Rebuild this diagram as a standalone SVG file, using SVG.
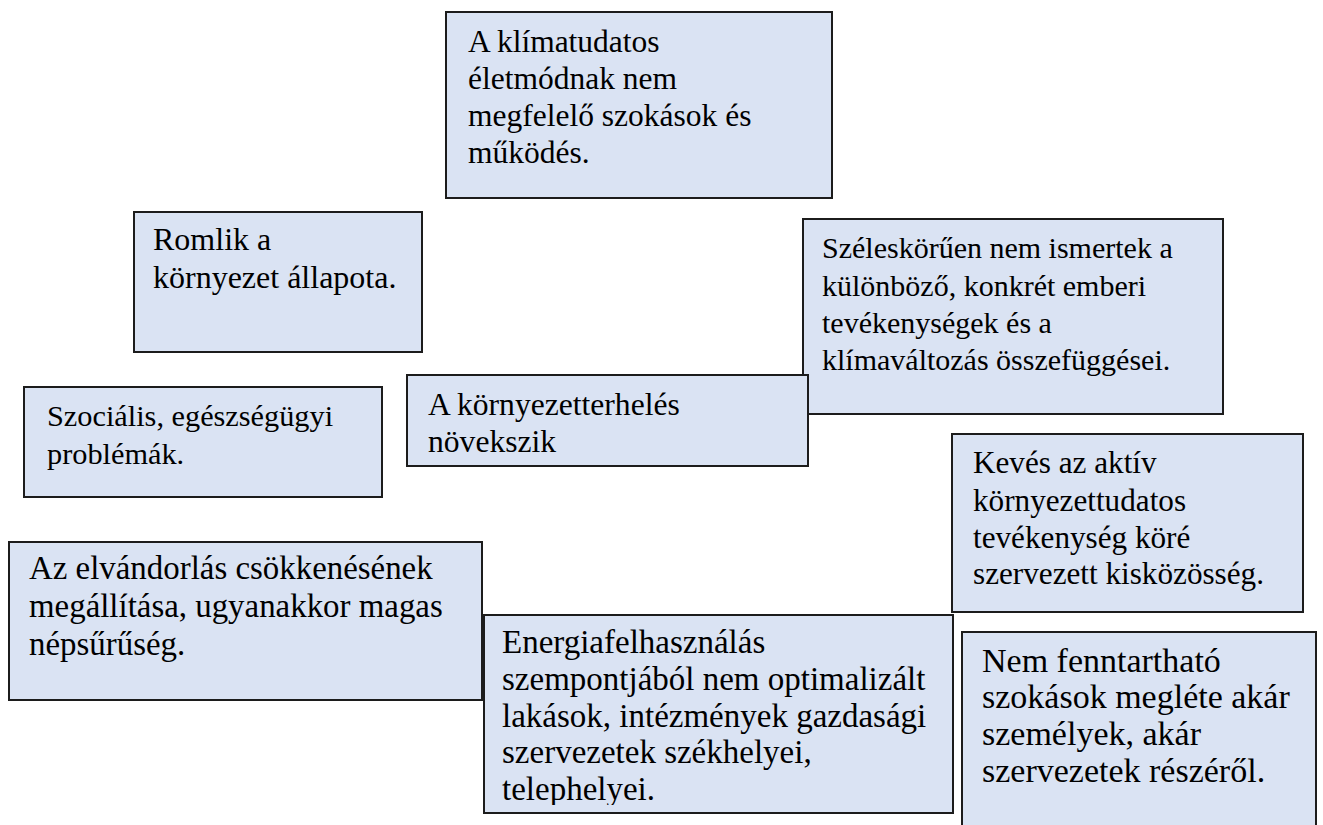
<svg xmlns="http://www.w3.org/2000/svg" width="1323" height="825" viewBox="0 0 1323 825">
<style>
.box{fill:#DAE3F3;stroke:#1c1c1c;stroke-width:2}
</style>
<defs>
<clipPath id="clipE"><rect x="484" y="615" width="469" height="190"/></clipPath>
</defs>
<rect x="0" y="0" width="1323" height="825" fill="#fff"/>
<g id="connectors"></g>
<g id="n1">
<rect class="box" x="446" y="12" width="386" height="186"/>
<text x="468" y="52" font-family="Liberation Serif, serif" font-size="31.5">A klímatudatos</text>
<text x="468" y="89" font-family="Liberation Serif, serif" font-size="31.5">életmódnak nem</text>
<text x="468" y="126" font-family="Liberation Serif, serif" font-size="31.5">megfelelő szokások és</text>
<text x="468" y="163" font-family="Liberation Serif, serif" font-size="31.5">működés.</text>
</g>
<g id="n2">
<rect class="box" x="134" y="212" width="288" height="140"/>
<text x="153" y="250" font-family="Liberation Serif, serif" font-size="32">Romlik a</text>
<text x="153" y="288" font-family="Liberation Serif, serif" font-size="32">környezet állapota.</text>
</g>
<g id="n3">
<rect class="box" x="24" y="387" width="358" height="110"/>
<text x="47" y="426" font-family="Liberation Serif, serif" font-size="30.3">Szociális, egészségügyi</text>
<text x="47" y="464" font-family="Liberation Serif, serif" font-size="30.3">problémák.</text>
</g>
<g id="n5">
<rect class="box" x="803" y="219" width="420" height="195"/>
<text x="822" y="258" font-family="Liberation Serif, serif" font-size="30">Széleskörűen nem ismertek a</text>
<text x="822" y="296" font-family="Liberation Serif, serif" font-size="30">különböző, konkrét emberi</text>
<text x="822" y="333" font-family="Liberation Serif, serif" font-size="30">tevékenységek és a</text>
<text x="822" y="370" font-family="Liberation Serif, serif" font-size="30">klímaváltozás összefüggései.</text>
</g>
<g id="n4">
<rect class="box" x="407" y="375" width="401" height="91"/>
<text x="428" y="415" font-family="Liberation Serif, serif" font-size="31.6">A környezetterhelés</text>
<text x="428" y="452" font-family="Liberation Serif, serif" font-size="31.6">növekszik</text>
</g>
<g id="n6">
<rect class="box" x="952" y="434" width="351" height="178"/>
<text x="973" y="473" font-family="Liberation Serif, serif" font-size="31.2">Kevés az aktív</text>
<text x="973" y="511" font-family="Liberation Serif, serif" font-size="31.2">környezettudatos</text>
<text x="973" y="548" font-family="Liberation Serif, serif" font-size="31.2">tevékenység köré</text>
<text x="973" y="584" font-family="Liberation Serif, serif" font-size="31.2">szervezett kisközösség.</text>
</g>
<g id="n7">
<rect class="box" x="962" y="632" width="354" height="200"/>
<text x="982" y="672" font-family="Liberation Serif, serif" font-size="34">Nem fenntartható</text>
<text x="982" y="708" font-family="Liberation Serif, serif" font-size="34">szokások megléte akár</text>
<text x="982" y="745" font-family="Liberation Serif, serif" font-size="34">személyek, akár</text>
<text x="982" y="782" font-family="Liberation Serif, serif" font-size="34">szervezetek részéről.</text>
</g>
<g id="n8">
<rect class="box" x="9" y="542" width="473" height="158"/>
<text x="29" y="579" font-family="Liberation Serif, serif" font-size="32.9">Az elvándorlás csökkenésének</text>
<text x="29" y="617" font-family="Liberation Serif, serif" font-size="32.9">megállítása, ugyanakkor magas</text>
<text x="29" y="655" font-family="Liberation Serif, serif" font-size="32.9">népsűrűség.</text>
</g>
<g id="n9">
<rect class="box" x="484" y="615" width="469" height="198"/>
<g clip-path="url(#clipE)">
<text x="502" y="653" font-family="Liberation Serif, serif" font-size="33">Energiafelhasználás</text>
<text x="502" y="690" font-family="Liberation Serif, serif" font-size="33">szempontjából nem optimalizált</text>
<text x="502" y="727" font-family="Liberation Serif, serif" font-size="33">lakások, intézmények gazdasági</text>
<text x="502" y="763" font-family="Liberation Serif, serif" font-size="33">szervezetek székhelyei,</text>
<text x="502" y="800" font-family="Liberation Serif, serif" font-size="33">telephelyei.</text>
</g>
</g>
</svg>
